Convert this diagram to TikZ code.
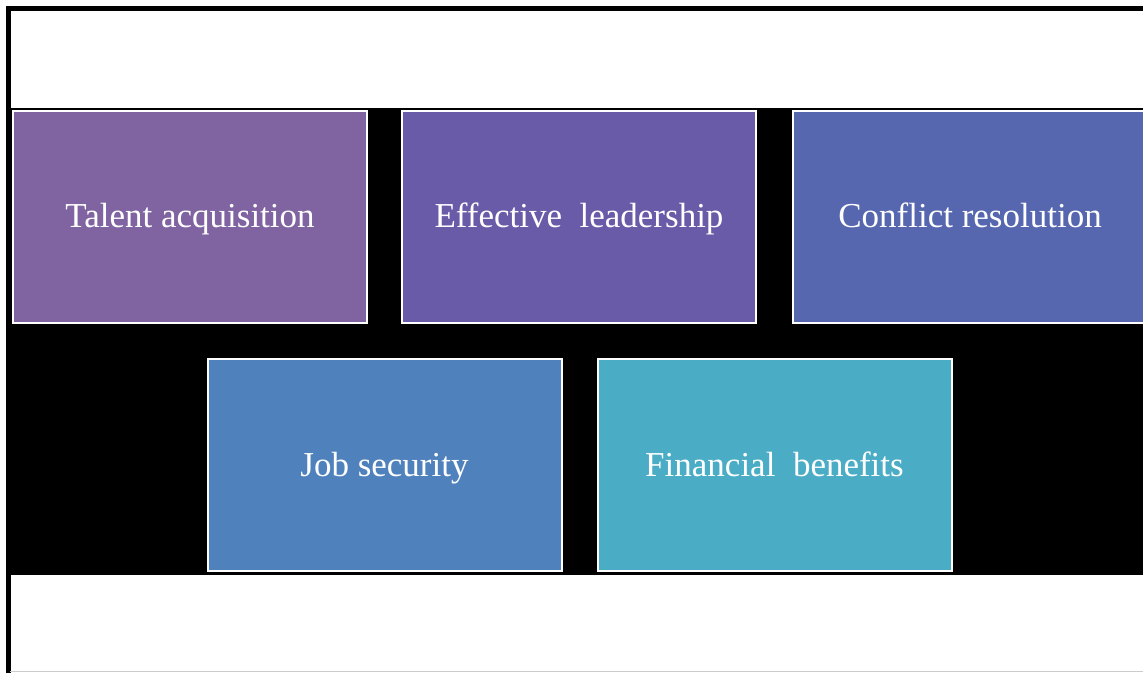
\documentclass[tikz,border=0pt]{standalone}
\usepackage{fontspec}
\setmainfont{Liberation Serif}
\definecolor{tilea}{RGB}{128,100,162}
\definecolor{tileb}{RGB}{105,91,168}
\definecolor{tilec}{RGB}{86,103,176}
\definecolor{tiled}{RGB}{79,129,189}
\definecolor{tilee}{RGB}{75,172,198}
\begin{document}
\begin{tikzpicture}[x=1pt, y=-1pt,
        tile/.style={draw=white, line width=2pt, inner sep=0pt,
          minimum width=354pt, minimum height=212pt, text=white,
          text height=24pt, text depth=2pt,
          font=\fontsize{35}{42}\selectfont}
      ]
      \clip (0, 0) rectangle (1143, 673);
      % frame and black band
      \fill[white] (0, 0) rectangle (1143, 673);
      \fill[black] (10, 108) rectangle (1143, 575);
      \draw[line width=5pt] (8, 673) -- (8, 8) -- (1143, 8);
      \draw[gray!40, line width=1pt] (10, 671.5) -- (1143, 671.5);

      % top row
      \node[tile, fill=tilea] at (190, 216.5) (talent) {Talent acquisition};
      \node[tile, fill=tileb] at (579, 216.5) (leader) {Effective\ \ leadership};
      \node[tile, fill=tilec] at (970, 216.5) (conflict) {Conflict resolution};

      % bottom row
      \node[tile, fill=tiled] at (384.5, 465) (job) {Job security};
      \node[tile, fill=tilee] at (774.5, 465) (money) {Financial\ \ benefits};
  \end{tikzpicture}
\end{document}
